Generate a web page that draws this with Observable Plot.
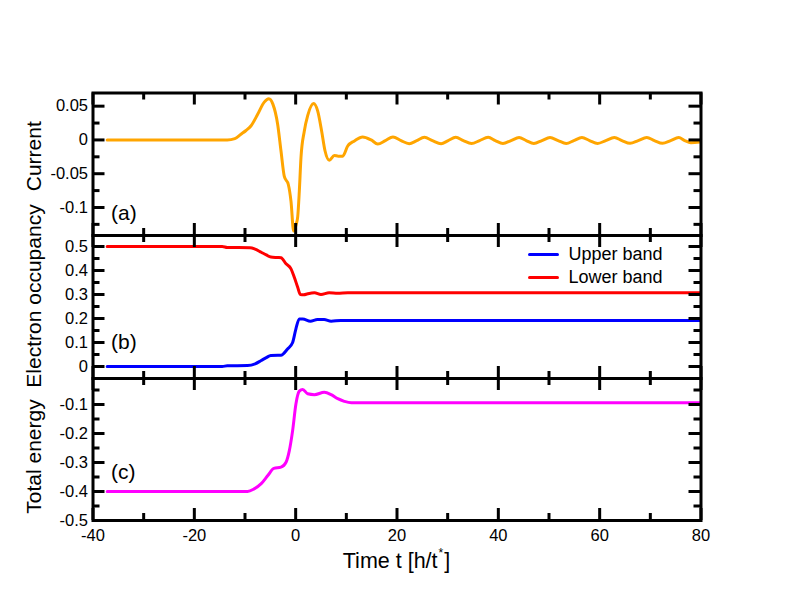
<!DOCTYPE html>
<html><head><meta charset="utf-8">
<script src="https://cdn.jsdelivr.net/npm/d3@7"></script>
<script src="https://cdn.jsdelivr.net/npm/@observablehq/plot@0.6"></script>
<style>
html,body{margin:0;padding:0;background:#fff;}
#chart{position:relative;width:792px;height:612px;font-family:"Liberation Sans",Arial,sans-serif;}
#chart svg{position:absolute;left:0;top:0;background:transparent;}
#xlabel{position:absolute;left:92.5px;width:608px;top:551px;line-height:20px;text-align:center;font-size:21.5px;color:#000;}
#xlabel .star{font-size:12px;position:relative;top:-11px;padding:0 1px;}
</style></head><body>
<div id="chart"><div id="xlabel">Time t [h/t<span class="star">*</span>]</div></div>
<script>
// ---- data ----
const currentT = [-37.2, -13.5, -12.0, -10.8, -9.8, -8.8, -7.5, -6.2, -5.3, -4.5,
  -3.55, -2.9, -2.24, -1.45, -0.92, -0.4, 0.1, 0.4, 0.72, 1.05,
  1.7, 2.37, 3.55, 4.34, 5.13, 5.79, 6.64, 7.63, 8.4, 9.28,
  10.27, 11.6, 13.2, 14.9, 16.2, 17.7, 19.2, 20.8, 22.4, 23.9,
  25.4, 27.0, 28.7, 30.1, 31.6, 33.1, 34.7, 36.3, 38.0, 39.4,
  40.9, 42.5, 44.1, 45.5, 47.0, 48.6, 50.2, 51.8, 53.4, 54.9,
  56.5, 58.0, 59.6, 61.2, 62.9, 64.4, 66.0, 67.6, 69.3, 70.8,
  72.4, 74.0, 75.6, 76.8, 78.0, 79.8];
const currentV = [0, 0, 0.002, 0.0085, 0.014, 0.021, 0.038, 0.056, 0.061, 0.053,
  0.023, -0.016, -0.054, -0.066, -0.091, -0.135, -0.125, -0.114, -0.076, -0.026,
  0.013, 0.036, 0.054, 0.043, 0.013, -0.016, -0.030, -0.023, -0.024, -0.024,
  -0.009, -0.0015, 0.0045, 0.0, -0.006, -0.001, 0.0045, -0.001, -0.0055, -0.001,
  0.0038, -0.001, -0.0055, -0.001, 0.0038, -0.001, -0.0052, -0.001, 0.0038, -0.001,
  -0.0052, -0.001, 0.0036, -0.001, -0.0052, -0.001, 0.0036, -0.001, -0.0052, -0.001,
  0.0036, -0.001, -0.0052, -0.001, 0.0036, -0.001, -0.005, -0.001, 0.0036, -0.001,
  -0.005, -0.001, 0.0036, -0.001, -0.004, -0.003];

const lowerT = [-37.2, -14.5, -13.5, -9.0, -8.0, -6.8, -5.8, -4.9, -3.5, -2.9,
  -1.9, -0.92, -0.27, 0.4, 0.92, 1.6, 2.37, 3.7, 5.0, 6.6, 8.3, 10.3, 79.8];
const lowerV = [0.5, 0.5, 0.496, 0.495, 0.489, 0.476, 0.465, 0.456, 0.454, 0.453,
  0.428, 0.407, 0.372, 0.33, 0.30, 0.299, 0.303, 0.307, 0.30, 0.307, 0.305, 0.307, 0.307];

const upperT = [-37.2, -14.5, -13.5, -9.5, -8.0, -6.8, -5.8, -4.9, -3.5, -2.9,
  -1.6, -0.6, 0.05, 0.72, 1.4, 2.9, 4.3, 5.6, 7.0, 8.9, 79.8];
const upperV = [0, 0, 0.003, 0.004, 0.011, 0.025, 0.037, 0.046, 0.047, 0.047,
  0.073, 0.10, 0.157, 0.198, 0.198, 0.189, 0.196, 0.196, 0.189, 0.192, 0.192];

const energyT = [-37.2, -9.5, -8.2, -6.8, -5.5, -4.3, -2.9, -1.9, -1.25, -0.6,
  0.05, 0.72, 1.4, 2.37, 3.7, 5.65, 7.0, 8.3, 9.6, 11.0, 79.8];
const energyV = [-0.4, -0.4, -0.391, -0.373, -0.345, -0.32, -0.316, -0.299, -0.259, -0.19,
  -0.098, -0.054, -0.048, -0.063, -0.066, -0.058, -0.066, -0.08, -0.089, -0.094, -0.094];

const seriesNames = ["Upper band", "Lower band"];
const panelTags = ["(a)", "(b)", "(c)"];
const yTitles = ["Current", "Electron occupancy", "Total energy"];
const xTitle = "Time t [h/t*]";

const xMajor = [-40, -20, 0, 20, 40, 60, 80];
const xMinor = [-30, -10, 10, 30, 50, 70];
const xLabels = ["-40", "-20", "0", "20", "40", "60", "80"];

const aMajor = [0.05, 0, -0.05, -0.1];
const aMinor = [0.025, -0.025, -0.075, -0.125];
const aLabels = ["0.05", "0", "-0.05", "-0.1"];

const bMajor = [0, 0.1, 0.2, 0.3, 0.4, 0.5];
const bMinor = [0.05, 0.15, 0.25, 0.35, 0.45];
const bLabels = ["0", "0.1", "0.2", "0.3", "0.4", "0.5"];

const cMajor = [-0.5, -0.4, -0.3, -0.2, -0.1];
const cMinor = [-0.45, -0.35, -0.25, -0.15, -0.05];
const cLabels = ["-0.5", "-0.4", "-0.3", "-0.2", "-0.1"];

// ---- build ----
const rows = (T, V) => T.map((t, i) => ({t, v: V[i]}));
const current = rows(currentT, currentV);
const lower = rows(lowerT, lowerV);
const upper = rows(upperT, upperV);
const energy = rows(energyT, energyV);

const W = 792, H = 612, L = 92.5, R = 700.5;
const IW = R - L;
const FONT = "Liberation Sans, Arial, sans-serif";
const lineShape = {draw(ctx, l) { ctx.moveTo(0, 0); ctx.lineTo(0, -l); }};

function panel({top, bottom, yDomain, yMajor, yMinor, yLabels, title, titleDy, tag, tagDy, lines, showX, extra = []}) {
  const ih = bottom - top;
  const tk = {stroke: "black", strokeWidth: 3};
  const marks = [
    ...lines,
    Plot.tickX(xMajor, {x: d => d, insetTop: ih - 12, ...tk}),
    Plot.tickX(xMajor, {x: d => d, insetBottom: ih - 12, ...tk}),
    Plot.tickX(xMinor, {x: d => d, insetTop: ih - 7, ...tk}),
    Plot.tickX(xMinor, {x: d => d, insetBottom: ih - 7, ...tk}),
    Plot.tickY(yMajor, {y: d => d, insetRight: IW - 12, ...tk}),
    Plot.tickY(yMajor, {y: d => d, insetLeft: IW - 12, ...tk}),
    Plot.tickY(yMinor, {y: d => d, insetRight: IW - 7, ...tk}),
    Plot.tickY(yMinor, {y: d => d, insetLeft: IW - 7, ...tk}),
    Plot.frame({stroke: "black", strokeWidth: 3}),
    Plot.text(yMajor, {y: d => d, text: (d, i) => yLabels[i], frameAnchor: "left", textAnchor: "end", lineAnchor: "middle", dx: -5, fontSize: 16.5, fill: "black"}),
    Plot.text([title], {frameAnchor: "left", textAnchor: "middle", lineAnchor: "middle", rotate: -90, dx: -59, dy: titleDy, fontSize: 21, fill: "black"}),
    Plot.text([tag], {frameAnchor: "top-left", textAnchor: "start", lineAnchor: "middle", dx: 18, dy: tagDy, fontSize: 21, fill: "black"}),
    ...extra
  ];
  if (showX) {
    marks.push(Plot.text(xMajor, {x: d => d, text: (d, i) => xLabels[i], frameAnchor: "bottom", lineAnchor: "top", textAnchor: "middle", dy: 9, fontSize: 16.5, fill: "black"}));
  }
  return Plot.plot({
    width: W, height: H,
    marginLeft: L, marginRight: W - R, marginTop: top, marginBottom: H - bottom,
    style: {background: "transparent", fontFamily: FONT, overflow: "visible"},
    x: {domain: [-40, 80], axis: null},
    y: {domain: yDomain, axis: null},
    marks
  });
}

const pa = panel({
  top: 92.5, bottom: 235, yDomain: [-0.1415, 0.0695],
  yMajor: aMajor, yMinor: aMinor, yLabels: aLabels,
  title: yTitles[0], titleDy: -8, tag: panelTags[0], tagDy: 120,
  lines: [Plot.line(current, {x: "t", y: "v", stroke: "#ffa500", strokeWidth: 3, curve: "monotone-x", strokeLinejoin: "round"})]
});

const pb = panel({
  top: 235, bottom: 378, yDomain: [-0.05, 0.5458],
  yMajor: bMajor, yMinor: bMinor, yLabels: bLabels,
  title: yTitles[1], titleDy: -11, tag: panelTags[1], tagDy: 106.5,
  lines: [
    Plot.line(lower, {x: "t", y: "v", stroke: "#ff0000", strokeWidth: 3, curve: "monotone-x", strokeLinejoin: "round"}),
    Plot.line(upper, {x: "t", y: "v", stroke: "#0000ff", strokeWidth: 3, curve: "monotone-x", strokeLinejoin: "round"})
  ],
  extra: [
    Plot.vector([0], {frameAnchor: "top-right", dx: -171.5, dy: 19, rotate: 90, length: 28, anchor: "start", shape: lineShape, stroke: "#0000ff", strokeWidth: 3}),
    Plot.vector([0], {frameAnchor: "top-right", dx: -171.5, dy: 42, rotate: 90, length: 28, anchor: "start", shape: lineShape, stroke: "#ff0000", strokeWidth: 3}),
    Plot.text([seriesNames[0]], {frameAnchor: "top-right", textAnchor: "start", lineAnchor: "middle", dx: -132.5, dy: 19, fontSize: 18, fill: "black"}),
    Plot.text([seriesNames[1]], {frameAnchor: "top-right", textAnchor: "start", lineAnchor: "middle", dx: -132.5, dy: 42, fontSize: 18, fill: "black"})
  ]
});

const pc = panel({
  top: 378, bottom: 520, yDomain: [-0.5, -0.0103],
  yMajor: cMajor, yMinor: cMinor, yLabels: cLabels,
  title: yTitles[2], titleDy: 7, tag: panelTags[2], tagDy: 93.7, showX: true,
  lines: [Plot.line(energy, {x: "t", y: "v", stroke: "#ff00ff", strokeWidth: 3, curve: "monotone-x", strokeLinejoin: "round"})]
});

const chart = document.getElementById("chart");
chart.appendChild(pa);
chart.appendChild(pb);
chart.appendChild(pc);
</script>
</body></html>
